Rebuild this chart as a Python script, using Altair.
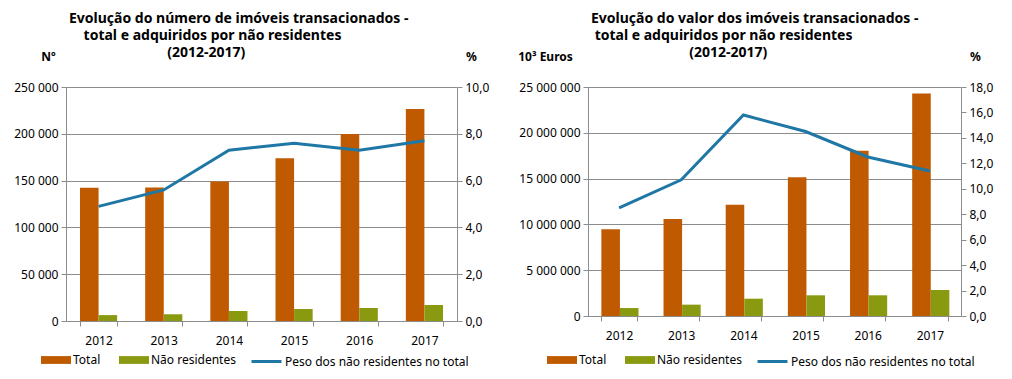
import altair as alt
import pandas as pd

anos = ["2012", "2013", "2014", "2015", "2016", "2017"]
series = ["Total", "Não residentes"]
linha_nome = "Peso dos não residentes no total"

num_total = [142300, 142500, 149000, 174000, 199700, 226500]
num_nres = [6300, 7200, 10700, 12800, 13900, 17100]
num_peso = [4.9, 5.6, 7.3, 7.6, 7.3, 7.7]

val_total = [9460000, 10600000, 12150000, 15140000, 18050000, 24300000]
val_nres = [870000, 1240000, 1890000, 2260000, 2260000, 2840000]
val_peso = [8.5, 10.7, 15.8, 14.5, 12.5, 11.4]

ZW = "\u200b"
titulo_num = ["Evolução do número de imóveis transacionados -",
              ZW + "\u00a0" * 4 + "total e adquiridos por não residentes",
              ZW + "\u00a0" * 27 + "(2012-2017)"]
titulo_val = ["Evolução do valor dos imóveis transacionados -",
              ZW + "\u00a0total e adquiridos por não residentes",
              ZW + "\u00a0" * 27 + "(2012-2017)"]

ORANGE = "#C05A00"
GREEN = "#8A9A10"
BLUE = "#1F77A6"
GRID = "#8C8C8C"
FONT = "Noto Sans"
RECT = "M-1,-0.26L1,-0.26L1,0.26L-1,0.26Z"


def panel(total, nres, peso, bar_max, bar_step, pct_max, width, height,
          titulo, ytitle, ytitle_x, leg1_x, leg2_x):
    rows = []
    for a, t, n in zip(anos, total, nres):
        rows.append({"ano": a, "serie": "Total", "valor": t})
        rows.append({"ano": a, "serie": "Não residentes", "valor": n})
    bars_df = pd.DataFrame(rows)
    line_df = pd.DataFrame({"ano": anos, "serie": [linha_nome] * len(anos), "peso": peso})

    xscale = alt.Scale(paddingInner=0.43, paddingOuter=0.215)
    xaxis = alt.Axis(title=None, labelAngle=0, tickBand="extent", domainColor=GRID,
                     tickColor=GRID, tickSize=5, labelPadding=9, grid=False)

    bars = alt.Chart(bars_df).mark_bar().encode(
        x=alt.X("ano:O", scale=xscale, axis=xaxis),
        xOffset=alt.XOffset("serie:N", sort=series,
                            scale=alt.Scale(domain=series, paddingInner=0, paddingOuter=0)),
        y=alt.Y("valor:Q", scale=alt.Scale(domain=[0, bar_max], nice=False),
                axis=alt.Axis(values=list(range(0, bar_max + 1, bar_step)), format=",.0f",
                              title=ytitle, titleAngle=0, titleX=ytitle_x, titleY=-31,
                              titleAlign="center", titleBaseline="middle",
                              grid=True, gridColor=GRID, domainColor=GRID, tickColor=GRID,
                              tickSize=5, labelPadding=3)),
        color=alt.Color("serie:N", sort=series,
                        scale=alt.Scale(domain=series, range=[ORANGE, GREEN]),
                        legend=alt.Legend(orient="none", legendX=leg1_x, legendY=258,
                                          direction="horizontal", title=None,
                                          symbolType=RECT, symbolSize=900,
                                          symbolStrokeWidth=0, symbolOpacity=1,
                                          columnPadding=18, labelOffset=2, padding=0,
                                          labelLimit=300)),
    )

    line = alt.Chart(line_df).mark_line(strokeWidth=3).encode(
        x=alt.X("ano:O", scale=xscale, axis=xaxis),
        y=alt.Y("peso:Q", scale=alt.Scale(domain=[0, pct_max], nice=False),
                axis=alt.Axis(orient="right", values=list(range(0, pct_max + 1, 2)),
                              format=".1f", title="%", titleAngle=0, titleX=14, titleY=-31,
                              titleAlign="center", titleBaseline="middle",
                              grid=False, domainColor=GRID, tickColor=GRID,
                              tickSize=5, labelPadding=3)),
        stroke=alt.Stroke("serie:N",
                          scale=alt.Scale(domain=[linha_nome], range=[BLUE]),
                          legend=alt.Legend(orient="none", legendX=leg2_x, legendY=258,
                                            direction="horizontal", title=None,
                                            symbolType="stroke", symbolSize=900,
                                            symbolStrokeWidth=3, labelOffset=2, padding=0,
                                            labelLimit=300)),
    )

    return alt.layer(bars, line).resolve_scale(y="independent").properties(
        width=width, height=height,
        title=alt.TitleParams(titulo, anchor="start", frame="group", dx=3, offset=-10),
    )


left = panel(num_total, num_nres, num_peso, 250000, 50000, 10, 391, 234,
             titulo_num, "Nº", -18, -25, 184)
right = panel(val_total, val_nres, val_peso, 25000000, 5000000, 18, 373, 229,
              titulo_val, "10³ Euros", -43, -41, 168)

chart = alt.hconcat(left, right, spacing=28).resolve_scale(
    color="independent", stroke="independent", x="independent", y="independent"
).resolve_legend(color="independent", stroke="independent").properties(
    padding={"left": 5, "top": 4, "right": 5, "bottom": 5}
).configure(
    locale={"number": {"decimal": ",", "thousands": " ", "grouping": [3], "currency": ["", " €"]}}
).configure_view(stroke=None).configure_axis(
    labelFont=FONT, labelFontSize=12, labelColor="#000000",
    titleFont=FONT, titleFontSize=12, titleFontWeight="bold", titleColor="#000000",
).configure_legend(
    labelFont=FONT, labelFontSize=12, labelColor="#000000",
).configure_title(
    font=FONT, fontSize=14, fontWeight="bold", color="#000000", lineHeight=17, align="left",
)

chart.save("out.html", embed_options={"renderer": "svg", "actions": False})
